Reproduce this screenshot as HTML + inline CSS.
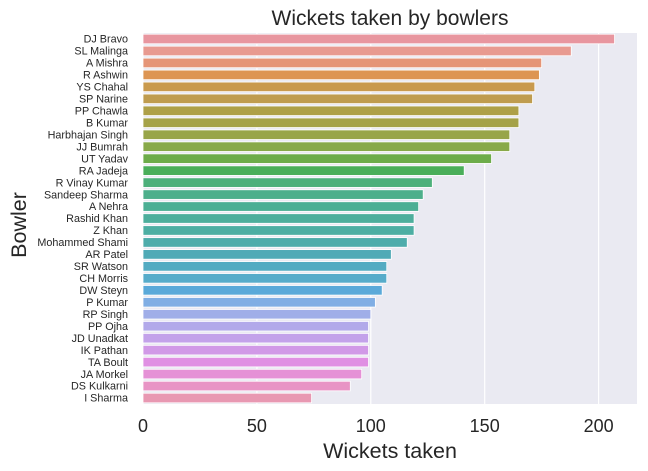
<!DOCTYPE html>
<html><head><meta charset="utf-8"><style>
body{margin:0;background:#fff;}
svg{display:block;font-family:"Liberation Sans",sans-serif;}
</style></head><body>
<svg id="chart" width="648" height="471" viewBox="0 0 648 471" xmlns="http://www.w3.org/2000/svg">
<rect x="143" y="33" width="494" height="371" fill="#eaeaf2"/>
<g id="grid"></g>
<g id="bars"></g>
<g id="ylabels"></g>
<g id="xticks"></g>
<text x="390" y="25" text-anchor="middle" font-size="21" fill="#262626">Wickets taken by bowlers</text>
<text x="390" y="458" text-anchor="middle" font-size="21.5" fill="#262626">Wickets taken</text>
<text transform="translate(26,225) rotate(-90)" text-anchor="middle" font-size="21.5" fill="#262626">Bowler</text>
</svg>
<script>
const bowlers=["DJ Bravo","SL Malinga","A Mishra","R Ashwin","YS Chahal","SP Narine","PP Chawla","B Kumar","Harbhajan Singh","JJ Bumrah","UT Yadav","RA Jadeja","R Vinay Kumar","Sandeep Sharma","A Nehra","Rashid Khan","Z Khan","Mohammed Shami","AR Patel","SR Watson","CH Morris","DW Steyn","P Kumar","RP Singh","PP Ojha","JD Unadkat","IK Pathan","TA Boult","JA Morkel","DS Kulkarni","I Sharma"];
const wickets=[207,188,175,174,172,171,165,165,161,161,153,141,127,123,121,119,119,116,109,107,107,105,102,100,99,99,99,99,96,91,74];
const xTicks=[0,50,100,150,200];
const colors=["#e8969f","#e89a90","#e59577","#dd9552","#c99a4e","#bf9c4f","#aea048","#a5a248","#98a548","#88a949","#6dac4a","#4aae5a","#4db07b","#4daf8b","#4caf94","#4dae9c","#4daea3","#4eacab","#50aab6","#53abc2","#57acca","#5aa9d9","#80aee4","#a0aee8","#b2a9ea","#c3a2ea","#d199e7","#e090e3","#e591d6","#e894c5","#e898b2"];
const NS="http://www.w3.org/2000/svg";
const X0=143,PX=2.278,TOP=33,BOT=404;
const step=(BOT-TOP)/bowlers.length;
const xs=v=>X0+v*PX;
const yc=i=>TOP+step*(i+0.5);
function mk(t,a,p){const e=document.createElementNS(NS,t);for(const k in a)e.setAttribute(k,a[k]);p.appendChild(e);return e;}
const grid=document.getElementById('grid'),bars=document.getElementById('bars'),yl=document.getElementById('ylabels'),xt=document.getElementById('xticks');
xTicks.forEach(t=>{
  const l=mk('line',{x1:xs(t),x2:xs(t),y1:TOP,y2:BOT,stroke:'#fff','stroke-width':1.2},grid);
  
  
  const tx=mk('text',{x:xs(t),y:432,'text-anchor':'middle','font-size':18,fill:'#262626'},xt);
  tx.textContent=t;
  
  
});
bowlers.forEach((b,i)=>{
  const h=step*0.8;
  const r=mk('rect',{x:xs(0),y:yc(i)-h/2,width:xs(wickets[i])-xs(0),height:h,fill:colors[i],stroke:'#fff','stroke-width':0.8},bars);
  
  
  const t=mk('text',{x:128,y:yc(i)+3.7,'text-anchor':'end','font-size':10.8,fill:'#262626'},yl);
  t.textContent=b;
  
  
});
</script>
</body></html>
